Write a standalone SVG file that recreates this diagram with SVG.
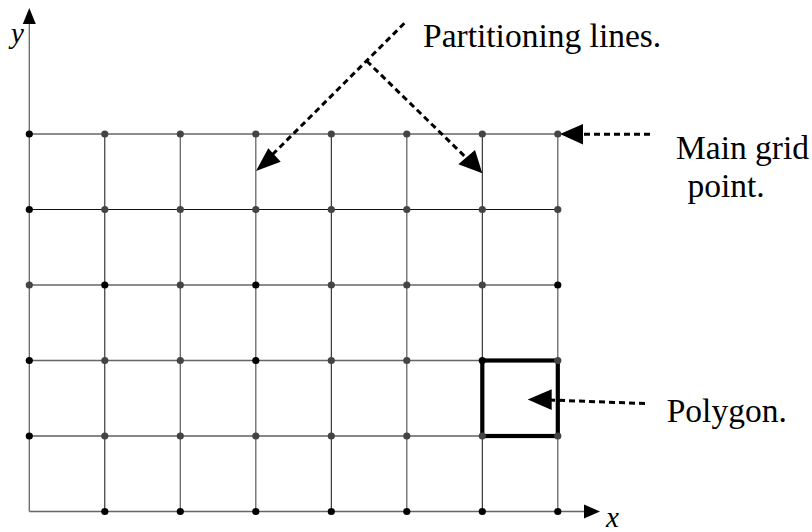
<svg xmlns="http://www.w3.org/2000/svg" width="812" height="532" viewBox="0 0 812 532">
<style>
.g{stroke:#666;stroke-width:1.3;fill:none}
.k{stroke:#111;stroke-width:1;fill:none}
.dk{fill:#000}
.dg{fill:#444}
.dash{stroke:#000;stroke-width:3;stroke-dasharray:6 4;fill:none}
.ah{fill:#000}
.t{font-size:33.5px;fill:#000}
.m{font-style:italic;font-size:29px;fill:#000}
</style>
<rect width="812" height="532" fill="#fff"/>
<g id="axes">
<line class="g" x1="29.3" y1="511.5" x2="29.3" y2="22"/>
<polygon class="ah" points="29.3,8 22.8,24 35.8,24"/>
<line class="g" x1="29.3" y1="511.5" x2="586" y2="511.5"/>
<polygon class="ah" points="600,511.5 584,504.5 584,518.5"/>
<text class="m" font-family="'Liberation Serif', serif" x="11" y="43">y</text>
<text class="m" font-family="'Liberation Serif', serif" x="606" y="526.5">x</text>
</g>
<g id="grid">
<line class="g" x1="29.3" y1="134" x2="557.8" y2="134"/>
<line class="k" x1="29.3" y1="209.5" x2="557.8" y2="209.5"/>
<line class="g" x1="29.3" y1="285" x2="557.8" y2="285"/>
<line class="g" x1="29.3" y1="360.5" x2="557.8" y2="360.5"/>
<line class="k" x1="29.3" y1="436" x2="557.8" y2="436"/>
<line class="k" x1="104.8" y1="134" x2="104.8" y2="511.5"/>
<line class="g" x1="180.3" y1="134" x2="180.3" y2="511.5"/>
<line class="g" x1="255.8" y1="134" x2="255.8" y2="511.5"/>
<line class="k" x1="331.3" y1="134" x2="331.3" y2="511.5"/>
<line class="g" x1="406.8" y1="134" x2="406.8" y2="511.5"/>
<line class="k" x1="482.3" y1="134" x2="482.3" y2="511.5"/>
<line class="g" x1="557.8" y1="134" x2="557.8" y2="511.5"/>
</g>
<g id="polygon">
<rect x="482.3" y="360.5" width="75.5" height="75.5" fill="none" stroke="#000" stroke-width="4.2"/>
</g>
<g id="points">
<circle class="dk" cx="29.3" cy="134" r="3.6"/>
<circle class="dg" cx="104.8" cy="134" r="3.6"/>
<circle class="dg" cx="180.3" cy="134" r="3.6"/>
<circle class="dg" cx="255.8" cy="134" r="3.6"/>
<circle class="dg" cx="331.3" cy="134" r="3.6"/>
<circle class="dg" cx="406.8" cy="134" r="3.6"/>
<circle class="dg" cx="482.3" cy="134" r="3.6"/>
<circle class="dg" cx="557.8" cy="134" r="3.6"/>
<circle class="dk" cx="29.3" cy="209.5" r="3.6"/>
<circle class="dg" cx="104.8" cy="209.5" r="3.6"/>
<circle class="dg" cx="180.3" cy="209.5" r="3.6"/>
<circle class="dg" cx="255.8" cy="209.5" r="3.6"/>
<circle class="dg" cx="331.3" cy="209.5" r="3.6"/>
<circle class="dg" cx="406.8" cy="209.5" r="3.6"/>
<circle class="dg" cx="482.3" cy="209.5" r="3.6"/>
<circle class="dg" cx="557.8" cy="209.5" r="3.6"/>
<circle class="dg" cx="29.3" cy="285" r="3.6"/>
<circle class="dk" cx="104.8" cy="285" r="3.6"/>
<circle class="dg" cx="180.3" cy="285" r="3.6"/>
<circle class="dk" cx="255.8" cy="285" r="3.6"/>
<circle class="dg" cx="331.3" cy="285" r="3.6"/>
<circle class="dg" cx="406.8" cy="285" r="3.6"/>
<circle class="dg" cx="482.3" cy="285" r="3.6"/>
<circle class="dk" cx="557.8" cy="285" r="3.6"/>
<circle class="dk" cx="29.3" cy="360.5" r="3.6"/>
<circle class="dg" cx="104.8" cy="360.5" r="3.6"/>
<circle class="dg" cx="180.3" cy="360.5" r="3.6"/>
<circle class="dk" cx="255.8" cy="360.5" r="3.6"/>
<circle class="dg" cx="331.3" cy="360.5" r="3.6"/>
<circle class="dg" cx="406.8" cy="360.5" r="3.6"/>
<circle class="dk" cx="482.3" cy="360.5" r="3.6"/>
<circle class="dg" cx="557.8" cy="360.5" r="3.6"/>
<circle class="dk" cx="29.3" cy="436" r="3.6"/>
<circle class="dg" cx="104.8" cy="436" r="3.6"/>
<circle class="dg" cx="180.3" cy="436" r="3.6"/>
<circle class="dg" cx="255.8" cy="436" r="3.6"/>
<circle class="dg" cx="331.3" cy="436" r="3.6"/>
<circle class="dg" cx="406.8" cy="436" r="3.6"/>
<circle class="dg" cx="482.3" cy="436" r="3.6"/>
<circle class="dg" cx="557.8" cy="436" r="3.6"/>
<circle class="dk" cx="104.8" cy="511.5" r="3.6"/>
<circle class="dk" cx="180.3" cy="511.5" r="3.6"/>
<circle class="dk" cx="255.8" cy="511.5" r="3.6"/>
<circle class="dk" cx="331.3" cy="511.5" r="3.6"/>
<circle class="dk" cx="406.8" cy="511.5" r="3.6"/>
<circle class="dk" cx="482.3" cy="511.5" r="3.6"/>
<circle class="dk" cx="557.8" cy="511.5" r="3.6"/>
</g>
<g id="connectors">
<path class="dash" d="M404.3,23.3 L270,157"/>
<polygon class="ah" points="256,171 268.3,148.3 280.7,161.7"/>
<path class="dash" d="M366.7,61 L468,159.5"/>
<polygon class="ah" points="482.3,173.3 458.3,164.3 475,150"/>
<path class="dash" d="M650,134.3 L581,134.2"/>
<polygon class="ah" points="560,134 583,124 583,144.5"/>
<path class="dash" d="M645,403.5 L549,400"/>
<polygon class="ah" points="527.7,399.5 551.7,389.3 551.7,410"/>
</g>
<g id="labels" font-family="'Liberation Serif', serif">
<text class="t" x="423" y="47">Partitioning lines.</text>
<text class="t" x="676" y="159">Main grid</text>
<text class="t" x="726" y="196.5" text-anchor="middle">point.</text>
<text class="t" x="666.7" y="421.7">Polygon.</text>
</g>
</svg>
